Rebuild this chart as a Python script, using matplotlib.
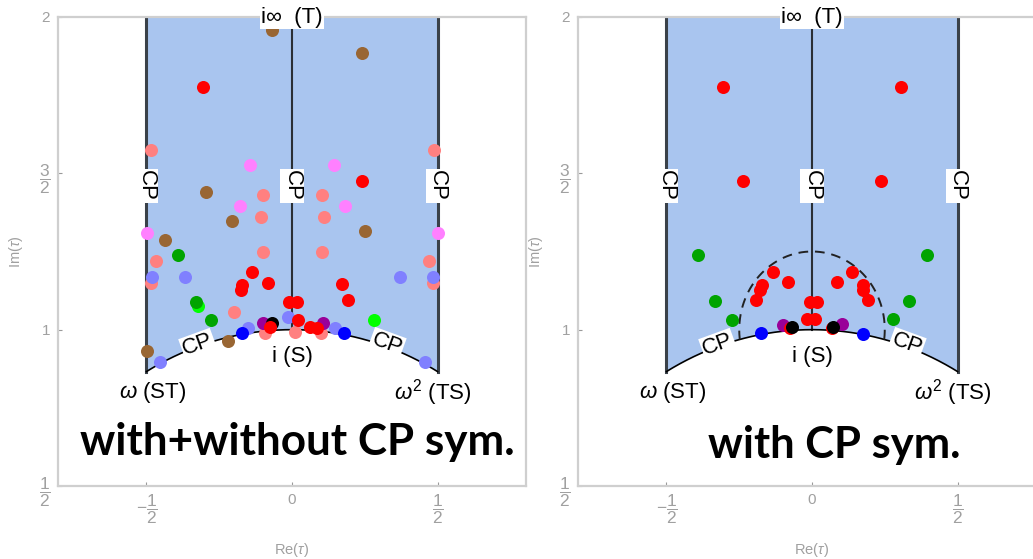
import numpy as np
import matplotlib
matplotlib.use('Agg')
import matplotlib.pyplot as plt

plt.rcParams['font.family'] = ['Liberation Sans', 'DejaVu Sans']
plt.rcParams['mathtext.fontset'] = 'custom'
plt.rcParams['mathtext.rm'] = 'Liberation Sans'
plt.rcParams['mathtext.it'] = 'Liberation Sans:italic'

# ---- data: (Re tau, Im tau) ----
# left panel: with + without CP symmetry
left_salmon = [(-0.485, 1.574), (0.488, 1.574), (-0.100, 1.430), (0.103, 1.430),
               (-0.107, 1.360), (0.110, 1.360), (-0.100, 1.250), (0.103, 1.250),
               (-0.467, 1.220), (0.471, 1.220), (-0.485, 1.150), (0.485, 1.150),
               (-0.199, 1.058), (-0.093, 0.990), (0.010, 0.994), (0.100, 0.990)]
left_pink = [(-0.144, 1.526), (0.144, 1.526), (-0.179, 1.397), (0.182, 1.397),
             (-0.498, 1.310), (0.502, 1.310)]
left_brown = [(-0.069, 1.958), (0.240, 1.885), (-0.296, 1.439), (-0.206, 1.346),
              (0.251, 1.317), (-0.436, 1.288), (-0.220, 0.965), (-0.498, 0.933)]
left_lightgreen = [(-0.323, 1.077), (0.282, 1.032)]
left_green = [(-0.392, 1.240), (-0.330, 1.090), (-0.278, 1.032)]
left_periwinkle = [(-0.481, 1.170), (0.485, 1.170), (-0.368, 1.170), (0.371, 1.170),
                   (-0.013, 1.042), (-0.151, 1.006), (0.148, 1.006),
                   (-0.454, 0.897), (0.457, 0.897)]
left_purple = [(-0.100, 1.022), (0.106, 1.022)]
left_black = [(-0.069, 1.022)]
left_red = [(-0.305, 1.775), (0.240, 1.475), (-0.137, 1.183), (-0.172, 1.144),
            (-0.175, 1.128), (-0.082, 1.150), (0.172, 1.147), (0.192, 1.096),
            (-0.010, 1.087), (0.017, 1.087), (0.020, 1.032), (-0.076, 1.010),
            (0.062, 1.010), (0.086, 1.006)]
left_blue = [(-0.172, 0.990), (0.179, 0.990)]

# right panel: with CP symmetry
right_green = [(-0.392, 1.240), (0.395, 1.240), (-0.333, 1.093), (0.333, 1.093),
               (-0.275, 1.032), (0.278, 1.035)]
right_purple = [(-0.100, 1.016), (0.103, 1.019)]
right_red = [(-0.306, 1.776), (0.306, 1.776), (-0.237, 1.475), (0.237, 1.475),
             (-0.134, 1.183), (-0.172, 1.144), (-0.179, 1.128), (-0.192, 1.096),
             (-0.082, 1.154), (0.086, 1.154), (0.137, 1.183), (0.175, 1.144),
             (0.175, 1.128), (0.192, 1.096), (-0.007, 1.087), (0.017, 1.087),
             (-0.017, 1.035), (0.010, 1.035), (-0.076, 1.006), (0.069, 1.006)]
right_black = [(-0.069, 1.010), (0.072, 1.010)]
right_blue = [(-0.175, 0.990), (0.175, 0.987)]

left_groups = [(left_salmon, '#ff8080'), (left_pink, '#ff80ff'), (left_brown, '#996633'),
               (left_lightgreen, '#00ff00'), (left_green, '#00a400'),
               (left_periwinkle, '#8080ff'), (left_purple, '#990099'),
               (left_black, '#000000'), (left_red, '#ff0000'), (left_blue, '#0000ff')]
right_groups = [(right_green, '#00a400'), (right_purple, '#990099'), (right_red, '#ff0000'),
                (right_black, '#000000'), (right_blue, '#0000ff')]

xtick_vals = [-0.5, 0, 0.5]
xtick_labels = [r'$-\dfrac{1}{2}$', r'$0$', r'$\dfrac{1}{2}$']
ytick_vals = [0.5, 1, 1.5, 2]
ytick_labels = [r'$\dfrac{1}{2}$', r'$1$', r'$\dfrac{3}{2}$', r'$2$']

W, H = 1033, 559
fig = plt.figure(figsize=(W / 100, H / 100), dpi=100)
ax1 = fig.add_axes([58 / W, (H - 486) / H, 468 / W, 469 / H])
ax2 = fig.add_axes([578 / W, (H - 486) / H, 468 / W, 469 / H])

GRAY = '#a0a0a0'
box = dict(fc='white', ec='none', pad=1.0)
LFS = 16


def draw_domain(ax, groups, dashed=False):
    t = np.linspace(2 * np.pi / 3, np.pi / 3, 200)
    ax_, ay_ = np.cos(t), np.sin(t)
    px = np.concatenate([[-0.5], ax_, [0.5]])
    py = np.concatenate([[2.0], ay_, [2.0]])
    ax.fill(px, py, color='#a9c5ef', lw=0, zorder=1)
    ax.plot([-0.5, -0.5], [np.sqrt(3) / 2, 2], color='#3a4149', lw=2.2, zorder=2)
    ax.plot([0.5, 0.5], [np.sqrt(3) / 2, 2], color='#3a4149', lw=2.2, zorder=2)
    ax.plot([0, 0], [1, 2], color='#2a2f35', lw=1.5, zorder=2)
    ax.plot(ax_, ay_, color='black', lw=1.2, zorder=2)
    if dashed:
        th = np.linspace(np.radians(-7.2), np.radians(187.2), 200)
        ax.plot(0.25 * np.cos(th), 1 + 0.25 * np.sin(th), color='#222222', lw=1.4,
                ls=(0, (5, 3.5)), zorder=2)

    for pts, col in groups:
        xs = [p[0] for p in pts]
        ys = [p[1] for p in pts]
        ax.scatter(xs, ys, s=88, color=col, linewidths=0, zorder=3)

    ax.text(0, 2.0, 'i∞  (T)', ha='center', va='center', fontsize=LFS, bbox=box, zorder=5)
    for xc in (-0.5, 0, 0.5):
        ax.text(xc, 1.46, 'CP', ha='center', va='center', fontsize=LFS, rotation=270,
                bbox=box, zorder=5)
    ax.text(-0.323, 0.952, 'CP', ha='center', va='center', fontsize=LFS, rotation=20,
            bbox=box, zorder=5)
    ax.text(0.326, 0.955, 'CP', ha='center', va='center', fontsize=LFS, rotation=-20,
            bbox=box, zorder=5)
    ax.text(0, 0.915, 'i (S)', ha='center', va='center', fontsize=LFS, zorder=5)
    ax.text(-0.478, 0.80, r'$\omega$ (ST)', ha='center', va='center', fontsize=LFS, zorder=5)
    ax.text(0.485, 0.80, r'$\omega^2$ (TS)', ha='center', va='center', fontsize=LFS, zorder=5)

    ax.set_xlim(-0.804, 0.804)
    ax.set_ylim(0.5, 2.0)
    for sp in ax.spines.values():
        sp.set_color('#cfcfcf')
        sp.set_linewidth(1.6)
    ax.set_xticks(xtick_vals)
    ax.set_xticklabels(xtick_labels)
    ax.set_yticks(ytick_vals)
    ax.set_yticklabels(ytick_labels)
    ax.tick_params(direction='in', length=3, color='#999999', labelcolor=GRAY,
                   labelsize=11, pad=5)
    for lab in ax.get_xticklabels() + ax.get_yticklabels():
        if 'frac' in lab.get_text():
            lab.set_fontsize(12.5)
    ax.set_xlabel(r'Re($\tau$)', color=GRAY, fontsize=10.5)
    ax.set_ylabel(r'Im($\tau$)', color=GRAY, fontsize=10.5)
    ax.xaxis.set_label_coords(0.5, -0.117)
    ax.yaxis.set_label_coords(-0.07, 0.5)


draw_domain(ax1, left_groups)
draw_domain(ax2, right_groups, dashed=True)


def big_text(x_px, y_px, s, target_w):
    t = fig.text(x_px / W, 1 - y_px / H, s, fontsize=30, fontweight='bold',
                 family='Lato', ha='left', va='baseline', zorder=10)
    fig.canvas.draw()
    w = t.get_window_extent().width
    t.set_fontsize(30 * target_w / w)


big_text(80, 455, 'with+without CP sym.', 435)
big_text(708, 458, 'with CP sym.', 252)

fig.savefig('out.png', dpi=100)
